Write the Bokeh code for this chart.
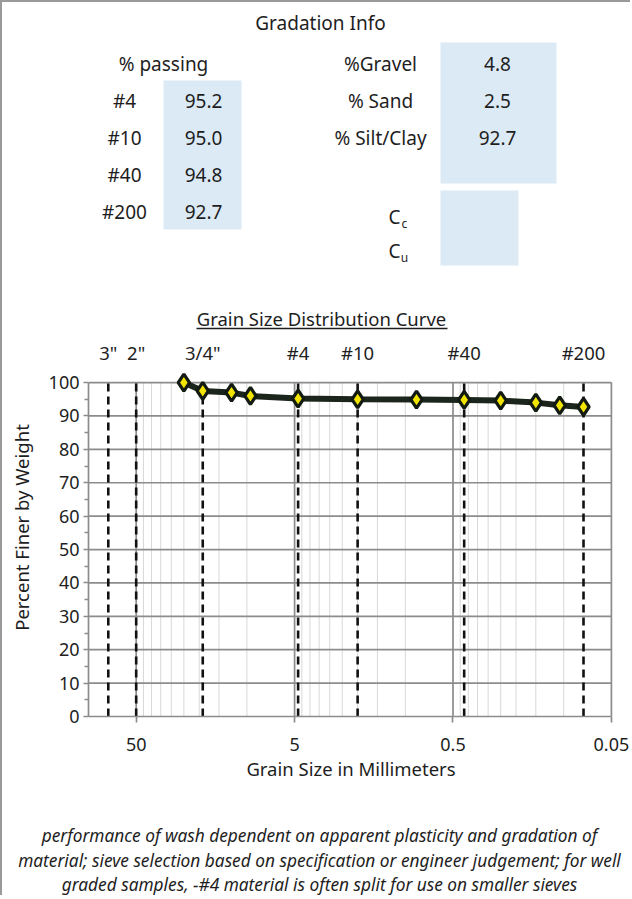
from bokeh.plotting import figure
from bokeh.models import Range1d, FixedTicker, CustomJSTickFormatter
from bokeh.layouts import column
from bokeh.embed import file_html
from bokeh.resources import INLINE
from bokeh.core.properties import value

FONT = "Noto Sans"
TXT = "#1e1e1e"

# ---------------- data ----------------
sieve_mm = [25.0, 19.0, 12.5, 9.5, 4.75, 2.0, 0.85, 0.425, 0.25, 0.15, 0.106, 0.075]
pct_finer = [100.0, 97.5, 97.0, 96.0, 95.2, 95.0, 94.9, 94.8, 94.6, 94.0, 93.2, 92.7]

ref_sieve_labels = ['3"', '2"', '3/4"', '#4', '#10', '#40', '#200']
ref_sieve_mm = [75.0, 50.0, 19.0, 4.75, 2.0, 0.425, 0.075]

passing_labels = ['#4', '#10', '#40', '#200']
passing_values = ['95.2', '95.0', '94.8', '92.7']
fraction_labels = ['%Gravel', '% Sand', '% Silt/Clay']
fraction_values = ['4.8', '2.5', '92.7']
coef_subscripts = ['c', 'u']

x_ticks = [50, 5, 0.5, 0.05]
x_minor = sorted({round(b * k, 4) for b in x_ticks for k in range(2, 10) if b * k < 100})
y_ticks = list(range(0, 101, 10))
y_minor = list(range(5, 100, 10))

notes = [
    "performance of wash dependent on apparent plasticity and gradation of",
    "material; sieve selection based on specification or engineer judgement; for well",
    "graded samples, -#4 material is often split for use on smaller sieves",
]

W = 628
H_TOP = 334
H_CH = 454
H_BOT = 105


def blank(h):
    f = figure(width=W, height=h, x_range=Range1d(0, W), y_range=Range1d(h, 0),
               x_axis_type=None, y_axis_type=None, output_backend="svg",
               toolbar_location=None, min_border=0, frame_align=False)
    f.grid.visible = False
    f.outline_line_color = None
    f.background_fill_color = "white"
    f.border_fill_color = "white"
    return f


def txt(f, x, y, t, size="19px", align="center", style="normal"):
    f.text(x=x, y=y, text=t, text_font=value(FONT), text_font_size=size,
           text_align=align, text_baseline="middle", text_color=TXT,
           text_font_style=style)


# ---------------- header (gradation info) ----------------
top = blank(H_TOP)
BOX = "#dceaf6"
top.quad(left=[161, 438, 438], right=[239, 554, 516], top=[78, 40, 188],
         bottom=[227, 181, 263], fill_color=BOX, line_color=None)
txt(top, [318], [20], ["Gradation Info"])
txt(top, [161], [61], ["% passing"])
row_y = [98, 135, 172, 209]
txt(top, [122] * 4, row_y, passing_labels)
txt(top, [201] * 4, row_y, passing_values)
frac_y = [61, 98, 135]
txt(top, [378] * 3, frac_y, fraction_labels)
txt(top, [495] * 3, frac_y, fraction_values)
coef_y = [214, 248]
txt(top, [392, 392], coef_y, ["C", "C"])
txt(top, [402, 402], [y + 7 for y in coef_y], coef_subscripts, size="12px")
# chart title with underline
txt(top, [319], [316], ["Grain Size Distribution Curve"], size="18.5px")
top.segment(x0=[194], y0=[326], x1=[445], y1=[326], line_color=TXT, line_width=1.3)

# ---------------- chart ----------------
ch = figure(width=W, height=H_CH, x_axis_type="log",
            x_range=Range1d(100, 0.0485), y_range=Range1d(0, 113.2),
            output_backend="svg", toolbar_location=None, frame_align=False,
            min_border_left=86, min_border_right=17,
            min_border_top=2, min_border_bottom=74)
ch.outline_line_color = None
ch.xgrid.visible = False
ch.ygrid.visible = False
ch.background_fill_color = "white"
ch.border_fill_color = "white"

GRID_MAJ = "#8c8c8c"
GRID_MIN = "#d8d8d8"
ch.segment(x0=x_minor, y0=0, x1=x_minor, y1=100, line_color=GRID_MIN, line_width=1)
ch.segment(x0=x_ticks, y0=0, x1=x_ticks, y1=100, line_color=GRID_MAJ, line_width=1.7)
ch.segment(x0=100, y0=y_ticks[1:], x1=0.05, y1=y_ticks[1:], line_color=GRID_MAJ, line_width=1.7)
ch.segment(x0=ref_sieve_mm, y0=0, x1=ref_sieve_mm, y1=100, line_color="#111111",
           line_width=2.6, line_dash="8 5")

ch.line(sieve_mm, pct_finer, line_color="#1b251b", line_width=6)
ch.scatter(sieve_mm, pct_finer, marker="diamond", size=17, fill_color="#f0e400",
           line_color="#121a12", line_width=3.2)

ch.text(x=ref_sieve_mm, y=[109.0] * len(ref_sieve_mm), text=ref_sieve_labels,
        text_align="center", text_baseline="middle", text_font=value(FONT),
        text_font_size="18.5px", text_color=TXT)

xa = ch.xaxis[0]
xa.ticker = FixedTicker(ticks=x_ticks, minor_ticks=[])
xa.formatter = CustomJSTickFormatter(code="return tick.toString()")
xa.bounds = (0.05, 100)
xa.axis_label = "Grain Size in Millimeters"
ya = ch.yaxis[0]
ya.ticker = FixedTicker(ticks=y_ticks, minor_ticks=y_minor)
ya.bounds = (0, 100)
ya.axis_label = "Percent Finer by Weight"
for ax in (xa, ya):
    ax.axis_line_color = GRID_MAJ
    ax.axis_line_width = 1.7
    ax.major_tick_line_color = GRID_MAJ
    ax.minor_tick_line_color = GRID_MAJ
    ax.major_tick_line_width = 1.7
    ax.minor_tick_line_width = 1.3
    ax.major_tick_in = 0
    ax.minor_tick_in = 0
    ax.major_label_text_font = FONT
    ax.major_label_text_font_size = "18px"
    ax.major_label_text_color = TXT
    ax.axis_label_text_font = FONT
    ax.axis_label_text_font_size = "18.5px"
    ax.axis_label_text_font_style = "normal"
    ax.axis_label_text_color = TXT
xa.major_tick_out = 6
xa.minor_tick_out = 0
xa.major_label_standoff = 15
xa.axis_label_standoff = 2
ya.major_tick_out = 5
ya.minor_tick_out = 4
ya.major_label_standoff = 4
ya.axis_label_standoff = 12

# ---------------- notes ----------------
bot = blank(H_BOT)
txt(bot, [317] * 3, [45, 70, 94], notes, size="17.3px", style="italic")

layout = column(top, ch, bot, spacing=0,
                styles={"border-left": "2px solid #9a9a9a", "border-top": "2px solid #9a9a9a"})

open("out.html", "w").write(file_html(layout, INLINE))
